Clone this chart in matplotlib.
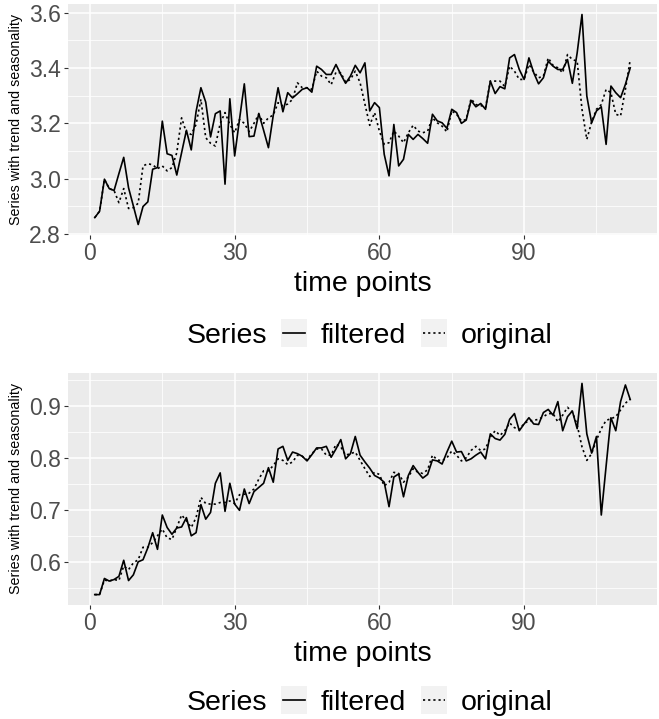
import matplotlib
matplotlib.use("Agg")
import matplotlib.pyplot as plt
from matplotlib.patches import Rectangle
from matplotlib.lines import Line2D
import numpy as np

plt.rcParams['font.family'] = ['Liberation Sans', 'DejaVu Sans']

# time axis
time_points = list(range(1, 113))

# upper panel (log scale series)
top_filtered = [
    2.859, 2.882, 2.998, 2.964, 2.957, 3.018, 3.077, 2.967, 2.901, 2.834,
    2.899, 2.916, 3.034, 3.040, 3.208, 3.090, 3.084, 3.013, 3.094, 3.175,
    3.104, 3.243, 3.329, 3.277, 3.151, 3.235, 3.245, 2.980, 3.289, 3.082,
    3.214, 3.343, 3.152, 3.154, 3.236, 3.175, 3.112, 3.229, 3.329, 3.242,
    3.311, 3.292, 3.307, 3.323, 3.329, 3.313, 3.407, 3.395, 3.377, 3.377,
    3.413, 3.377, 3.345, 3.371, 3.410, 3.383, 3.419, 3.245, 3.275, 3.257,
    3.088, 3.010, 3.196, 3.046, 3.070, 3.160, 3.142, 3.160, 3.145, 3.128,
    3.233, 3.209, 3.202, 3.182, 3.251, 3.239, 3.200, 3.212, 3.283, 3.260,
    3.272, 3.251, 3.353, 3.308, 3.333, 3.325, 3.437, 3.449, 3.395, 3.359,
    3.437, 3.383, 3.343, 3.365, 3.425, 3.407, 3.395, 3.395, 3.431, 3.345,
    3.455, 3.594, 3.299, 3.202, 3.245, 3.260, 3.124, 3.335, 3.311, 3.293,
    3.341, 3.401,
]
top_original = [
    2.859, 2.882, 2.998, 2.964, 2.957, 2.913, 2.964, 2.892, 2.895, 2.911,
    3.046, 3.054, 3.050, 3.036, 3.046, 3.028, 3.040, 3.094, 3.220, 3.166,
    3.160, 3.196, 3.287, 3.148, 3.128, 3.118, 3.200, 3.239, 3.196, 3.166,
    3.214, 3.200, 3.170, 3.200, 3.233, 3.200, 3.220, 3.230, 3.275, 3.263,
    3.270, 3.287, 3.347, 3.329, 3.329, 3.323, 3.389, 3.371, 3.365, 3.340,
    3.385, 3.383, 3.349, 3.359, 3.389, 3.347, 3.270, 3.193, 3.239, 3.172,
    3.124, 3.130, 3.172, 3.154, 3.130, 3.166, 3.193, 3.172, 3.166, 3.172,
    3.220, 3.202, 3.190, 3.169, 3.245, 3.233, 3.209, 3.214, 3.289, 3.268,
    3.265, 3.257, 3.353, 3.353, 3.353, 3.333, 3.407, 3.389, 3.359, 3.359,
    3.413, 3.386, 3.365, 3.371, 3.437, 3.410, 3.401, 3.383, 3.449, 3.431,
    3.425, 3.251, 3.142, 3.205, 3.251, 3.268, 3.323, 3.311, 3.233, 3.227,
    3.323, 3.431,
]

# lower panel
bottom_filtered = [
    0.537, 0.537, 0.568, 0.563, 0.566, 0.572, 0.603, 0.564, 0.575, 0.600,
    0.604, 0.627, 0.656, 0.624, 0.690, 0.666, 0.653, 0.665, 0.667, 0.685,
    0.650, 0.656, 0.710, 0.682, 0.695, 0.751, 0.771, 0.697, 0.751, 0.711,
    0.699, 0.740, 0.712, 0.735, 0.743, 0.751, 0.781, 0.753, 0.817, 0.822,
    0.795, 0.811, 0.808, 0.803, 0.794, 0.806, 0.819, 0.819, 0.822, 0.801,
    0.817, 0.835, 0.798, 0.808, 0.841, 0.805, 0.792, 0.780, 0.766, 0.761,
    0.753, 0.706, 0.763, 0.769, 0.725, 0.766, 0.785, 0.772, 0.761, 0.768,
    0.796, 0.794, 0.788, 0.811, 0.832, 0.811, 0.812, 0.794, 0.798, 0.805,
    0.811, 0.798, 0.846, 0.837, 0.834, 0.845, 0.874, 0.885, 0.852, 0.865,
    0.877, 0.865, 0.864, 0.887, 0.893, 0.882, 0.908, 0.852, 0.879, 0.890,
    0.856, 0.943, 0.846, 0.809, 0.841, 0.690, 0.784, 0.877, 0.852, 0.908,
    0.940, 0.912,
]
bottom_original = [
    0.537, 0.537, 0.565, 0.563, 0.566, 0.564, 0.592, 0.585, 0.598, 0.604,
    0.628, 0.628, 0.637, 0.650, 0.663, 0.646, 0.643, 0.666, 0.690, 0.679,
    0.666, 0.685, 0.724, 0.712, 0.711, 0.711, 0.714, 0.714, 0.717, 0.712,
    0.729, 0.730, 0.732, 0.740, 0.759, 0.775, 0.775, 0.785, 0.798, 0.795,
    0.787, 0.792, 0.805, 0.803, 0.796, 0.808, 0.817, 0.817, 0.805, 0.805,
    0.826, 0.821, 0.805, 0.808, 0.811, 0.795, 0.779, 0.764, 0.772, 0.768,
    0.746, 0.753, 0.772, 0.770, 0.753, 0.763, 0.779, 0.772, 0.770, 0.777,
    0.805, 0.796, 0.794, 0.800, 0.813, 0.805, 0.794, 0.800, 0.814, 0.822,
    0.814, 0.817, 0.840, 0.852, 0.843, 0.852, 0.867, 0.858, 0.854, 0.866,
    0.871, 0.872, 0.874, 0.879, 0.885, 0.885, 0.869, 0.882, 0.897, 0.888,
    0.863, 0.821, 0.795, 0.808, 0.834, 0.856, 0.872, 0.875, 0.879, 0.892,
    0.905, 0.913,
]

x_major = [0, 30, 60, 90]
top_yticks = [2.8, 3.0, 3.2, 3.4, 3.6]
bottom_yticks = [0.6, 0.7, 0.8, 0.9]

W, H = 659, 719
fig = plt.figure(figsize=(W / 100, H / 100), dpi=100)

BG = '#EBEBEB'
DOTTED = (0, (1.3, 1.8))


def fx(px):
    return px / W


def fy(py):
    return 1 - py / H


def style_panel(ax, yticks, ylim):
    ax.set_facecolor(BG)
    for s in ax.spines.values():
        s.set_visible(False)
    ax.set_xlim(-4.55, 117.55)
    ax.set_xticks(x_major)
    ax.set_xticks([15, 45, 75, 105], minor=True)
    step = yticks[1] - yticks[0]
    ax.set_yticks(yticks)
    ax.set_yticks([v + step / 2 for v in [yticks[0] - step] + yticks], minor=True)
    ax.set_ylim(*ylim)
    ax.grid(True, which='major', color='white', lw=1.1)
    ax.grid(True, which='minor', color='white', lw=0.55)
    ax.set_axisbelow(True)
    ax.tick_params(which='major', length=3, width=0.8, color='#333333',
                   labelsize=16.5, labelcolor='#4D4D4D', pad=2)
    ax.tick_params(which='minor', length=0)
    ax.set_xlabel('time points', fontsize=20.5, color='black', labelpad=4.5)
    ax.set_ylabel('Series with trend and seasonality', fontsize=10.3,
                  color='black')
    ax.yaxis.set_label_coords((23 - 68) / 589, 0.5)


def draw_legend(cy):
    fig.text(fx(187), fy(cy), 'Series', fontsize=20.5, ha='left', va='center_baseline')
    for x0, ls, lab in [(281, '-', 'filtered'), (421, DOTTED, 'original')]:
        fig.patches.append(Rectangle((fx(x0), fy(cy + 14)), fx(26), 28 / H,
                                     transform=fig.transFigure, facecolor='#F2F2F2',
                                     edgecolor='none'))
        fig.lines.append(Line2D([fx(x0 + 2), fx(x0 + 24)], [fy(cy), fy(cy)],
                                transform=fig.transFigure, color='black',
                                lw=1.2, linestyle=ls))
        fig.text(fx(x0 + 40), fy(cy), lab, fontsize=20.5, ha='left',
                 va='center_baseline')


panels = [
    (4, 235, top_filtered, top_original, top_yticks, (2.796, 3.632), 333),
    (373, 605, bottom_filtered, bottom_original, bottom_yticks, (0.517, 0.963), 700),
]

for top_px, bot_px, filt, orig, yt, yl, leg_y in panels:
    ax = fig.add_axes([fx(68), fy(bot_px), fx(657 - 68), (bot_px - top_px) / H])
    ax.plot(time_points, filt, color='black', lw=1.2, linestyle='-')
    ax.plot(time_points, orig, color='black', lw=1.2, linestyle=DOTTED)
    style_panel(ax, yt, yl)
    draw_legend(leg_y)

fig.savefig('out.png', dpi=100)
